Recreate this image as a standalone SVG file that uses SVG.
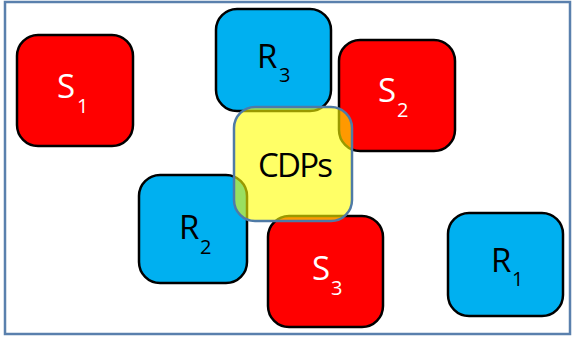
<svg xmlns="http://www.w3.org/2000/svg" width="573" height="337" viewBox="0 0 573 337">
  <style>
    .box { stroke: #000; stroke-width: 2.5; }
    .s { fill: #ff0000; }
    .r { fill: #00b0f0; }
    .cdp { fill: #ffff00; fill-opacity: 0.6; stroke: #4f7aa6; stroke-width: 2.5; }
    text { font-family: "Open Sans", "Liberation Sans", sans-serif; }
    .main { font-size: 33px; }
    .sub { font-size: 20px; }
    .w { fill: #ffffff; }
    .k { fill: #000000; }
  </style>
  <!-- frame -->
  <rect x="5" y="2" width="565" height="332" fill="#ffffff" stroke="#5a80ad" stroke-width="2.5"/>
  <g id="connectors"/>
  <g id="S1">
    <rect class="box s" x="17" y="35" width="116" height="111" rx="21"/>
    <text class="main w" x="57" y="98">S</text><text class="sub w" x="77" y="113">1</text>
  </g>
  <g id="R3">
    <rect class="box r" x="216" y="9" width="115" height="102" rx="21"/>
    <text class="main k" x="257" y="68">R</text><text class="sub k" x="279" y="82">3</text>
  </g>
  <g id="S2">
    <rect class="box s" x="339" y="40" width="116" height="111" rx="21"/>
    <text class="main w" x="378" y="102">S</text><text class="sub w" x="397" y="117">2</text>
  </g>
  <g id="R2">
    <rect class="box r" x="139" y="175" width="108" height="108" rx="21"/>
    <text class="main k" x="179" y="239">R</text><text class="sub k" x="200" y="254">2</text>
  </g>
  <g id="S3">
    <rect class="box s" x="268" y="216" width="115" height="111" rx="21"/>
    <text class="main w" x="312" y="280">S</text><text class="sub w" x="331" y="295">3</text>
  </g>
  <g id="R1">
    <rect class="box r" x="448" y="213" width="115" height="103" rx="21"/>
    <text class="main k" x="491" y="272">R</text><text class="sub k" x="512" y="286">1</text>
  </g>
  <!-- translucent CDPs box drawn last so it tints the boxes beneath -->
  <g id="CDPs">
    <rect class="cdp" x="234" y="107" width="118" height="114" rx="21"/>
    <text class="main k" x="258" y="177" textLength="75">CDPs</text>
  </g>
</svg>
